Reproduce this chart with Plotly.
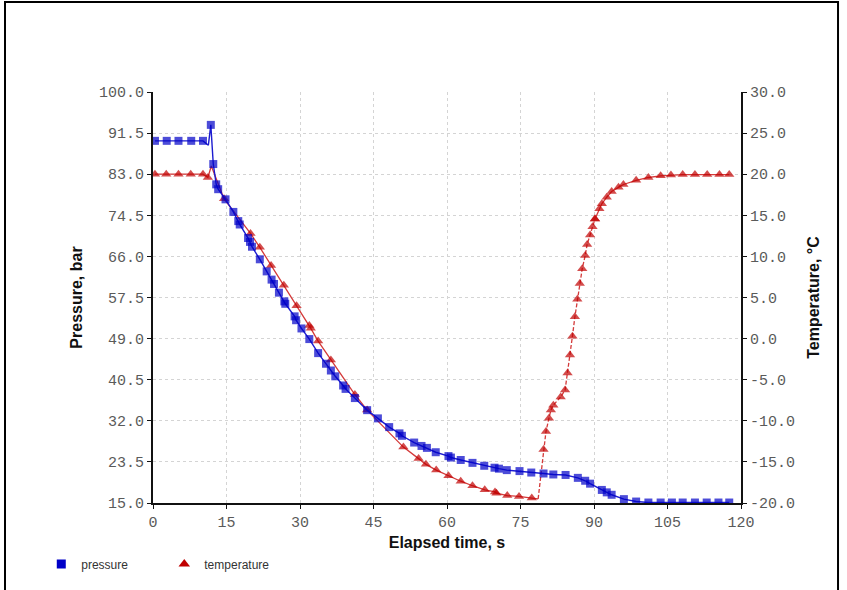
import plotly.graph_objects as go

# ---------------- data ----------------
time_p = [0.4, 2.8, 5.2, 7.8, 10.2, 11.3, 11.8, 12.3, 12.9, 13.3, 14.8, 16.4, 17.4, 17.7,
          19.4, 19.8, 20.2, 21.8, 23.2, 24.2, 24.7, 25.7, 26.8, 27.0, 28.9, 29.2, 30.3,
          31.9, 33.7, 35.3, 36.3, 37.2, 38.8, 39.3, 41.2, 43.7, 45.9, 48.2, 50.3, 50.8,
          53.3, 54.8, 55.9, 57.7, 60.3, 60.8, 62.8, 65.2, 67.6, 69.7, 70.6, 72.2, 74.8,
          77.2, 79.7, 81.7, 84.2, 86.7, 88.2, 89.2, 91.6, 92.6, 93.6, 96.1, 98.6, 101.1,
          103.6, 105.9, 108.1, 110.6, 113.0, 115.4, 117.6]
pressure = [89.9, 89.9, 89.9, 89.9, 89.9, 89.0, 93.2, 85.1, 80.9, 79.9, 77.8, 75.2, 73.3, 72.6,
            69.8, 69.0, 68.0, 65.4, 62.9, 61.2, 60.3, 58.5, 56.7, 56.2, 53.6, 52.8, 51.1,
            48.9, 46.0, 43.8, 42.4, 41.2, 39.3, 38.6, 36.7, 34.2, 32.5, 30.7, 29.4, 28.9,
            27.5, 26.8, 26.4, 25.5, 24.7, 24.4, 23.9, 23.3, 22.7, 22.3, 22.1, 21.8, 21.6,
            21.3, 21.1, 20.9, 20.8, 20.2, 19.6, 19.0, 17.7, 17.2, 16.7, 15.8, 15.3, 15.1,
            15.1, 15.1, 15.1, 15.1, 15.1, 15.1, 15.1]
p_hidden = [5]  # line vertices drawn without a marker

time_t = [0.4, 2.7, 5.2, 7.7, 10.2, 11.2, 11.9, 14.5, 19.9, 21.8, 24.1, 26.7, 29.3, 31.9,
          32.2, 33.7, 36.3, 41.2, 43.7, 51.1, 54.2, 55.7, 57.8, 60.3, 62.8, 65.2, 67.7,
          69.8, 70.1, 72.3, 74.7, 77.3, 78.6, 79.7, 80.2, 80.8, 81.2, 81.7, 83.2, 84.1,
          84.6, 85.1, 85.6, 86.1, 86.6, 87.1, 87.6, 88.2, 88.6, 89.2, 89.7, 90.2, 91.1,
          91.6, 92.6, 93.6, 95.0, 96.0, 98.6, 101.1, 103.6, 105.7, 108.1, 110.6, 113.1,
          115.6, 117.6]
temperature = [20, 20, 20, 20, 20, 19.6, 21.0, 17.0, 12.8, 11.1, 8.9, 6.5, 4.0, 1.6,
               1.25, -0.3, -2.6, -6.8, -8.7, -13.2, -14.6, -15.3, -16.0, -16.7, -17.35, -17.9, -18.4,
               -18.65, -18.8, -19.1, -19.2, -19.4, -19.5, -13.5, -11.3, -9.7, -8.7, -8.1, -7.1, -6.25,
               -4.2, -2.0, 0.3, 2.65, 4.8, 6.7, 8.5, 10.1, 11.45, 12.6, 13.6, 14.55, 15.8,
               16.4, 17.2, 17.9, 18.4, 18.75, 19.25, 19.6, 19.8, 19.9, 19.95, 19.95, 19.95,
               19.95, 19.95]
t_hidden = [6, 32]
dash_start, dash_end = 32, 51  # rising segment drawn dashed

x_ticks = [0, 15, 30, 45, 60, 75, 90, 105, 120]
p_ticks = [15.0, 23.5, 32.0, 40.5, 49.0, 57.5, 66.0, 74.5, 83.0, 91.5, 100.0]
t_ticks = [-20.0, -15.0, -10.0, -5.0, 0.0, 5.0, 10.0, 15.0, 20.0, 25.0, 30.0]

# ---------------- style ----------------
BLUE = "#0000c8"
BLUE_LINE = "#1c1cd0"
RED = "#c00000"
RED_LINE = "#d43a3a"
MONO = "Liberation Mono, Courier New, monospace"
SANS = "Liberation Sans, Arial, sans-serif"
TICKC = "#5a5a5a"
GRID = "#d4d4d4"

p_sizes = [0 if i in p_hidden else 8 for i in range(len(time_p))]
t_sizes = [0 if i in t_hidden else 9 for i in range(len(time_t))]

fig = go.Figure()

segments = [(0, dash_start + 1, "solid"), (dash_start, dash_end + 1, "4px,2px"),
            (dash_end, len(time_t), "solid")]
for a, b, d in segments:
    fig.add_trace(go.Scatter(
        x=time_t[a:b], y=temperature[a:b], mode="lines+markers", yaxis="y",
        line=dict(color=RED_LINE, width=1.3, dash=d),
        marker=dict(symbol="triangle-up", size=t_sizes[a:b], color=RED,
                    line=dict(width=0)),
        showlegend=False, hoverinfo="skip"))

fig.add_trace(go.Scatter(
    x=time_p, y=pressure, mode="lines+markers", yaxis="y2",
    line=dict(color=BLUE_LINE, width=1.4),
    marker=dict(symbol="square", size=p_sizes, color=BLUE, line=dict(width=0)),
    showlegend=False, hoverinfo="skip"))

# legend entries (marker only)
fig.add_trace(go.Scatter(x=[None], y=[None], mode="markers", name="pressure", yaxis="y2",
                         marker=dict(symbol="square", size=9, color=BLUE)))
fig.add_trace(go.Scatter(x=[None], y=[None], mode="markers", name="temperature", yaxis="y",
                         marker=dict(symbol="triangle-up", size=10, color=RED)))

axis_common = dict(showline=True, linecolor="#111111", ticks="outside", ticklen=4,
                   tickcolor="#111111", zeroline=False,
                   tickfont=dict(family=MONO, size=15, color=TICKC))

fig.update_layout(
    width=847, height=590,
    margin=dict(l=153, r=106, t=92, b=87, autoexpand=False),
    paper_bgcolor="white", plot_bgcolor="white",
    xaxis=dict(range=[0, 120], tickvals=x_ticks, ticktext=[str(v) for v in x_ticks],
               showgrid=True, gridcolor=GRID, griddash="dot", gridwidth=1,
               linewidth=1.5,
               title=dict(text="Elapsed time, s", standoff=6,
                          font=dict(family=SANS, size=16, color="#111111", weight="bold")),
               **axis_common),
    yaxis=dict(range=[-20, 30], side="right", tickvals=t_ticks,
               ticktext=[f"{v:.1f}" for v in t_ticks], showgrid=False,
               linewidth=2,
               title=dict(text="Temperature, °C", standoff=14,
                          font=dict(family=SANS, size=16, color="#111111", weight="bold")),
               **axis_common),
    yaxis2=dict(range=[15, 100], side="left", overlaying="y", tickvals=p_ticks,
                ticktext=[f"{v:.1f}" for v in p_ticks], showgrid=True,
                gridcolor=GRID, griddash="dot", gridwidth=1, linewidth=2,
                title=dict(text="Pressure, bar", standoff=12,
                           font=dict(family=SANS, size=16, color="#111111", weight="bold")),
                **axis_common),
    legend=dict(orientation="h", x=-0.19, xanchor="left", y=-0.113, yanchor="top",
                font=dict(family=SANS, size=12, color="#333333"),
                entrywidth=78, bgcolor="rgba(0,0,0,0)"),
    shapes=[dict(type="rect", xref="paper", yref="paper", x0=-0.2517, x1=1.165,
                 y0=-0.25, y1=1.219, line=dict(color="#000000", width=2),
                 fillcolor="rgba(0,0,0,0)", layer="below")],
)

fig.write_html("out.html", config={"displayModeBar": False},
               post_script="document.body.style.margin='0';")
